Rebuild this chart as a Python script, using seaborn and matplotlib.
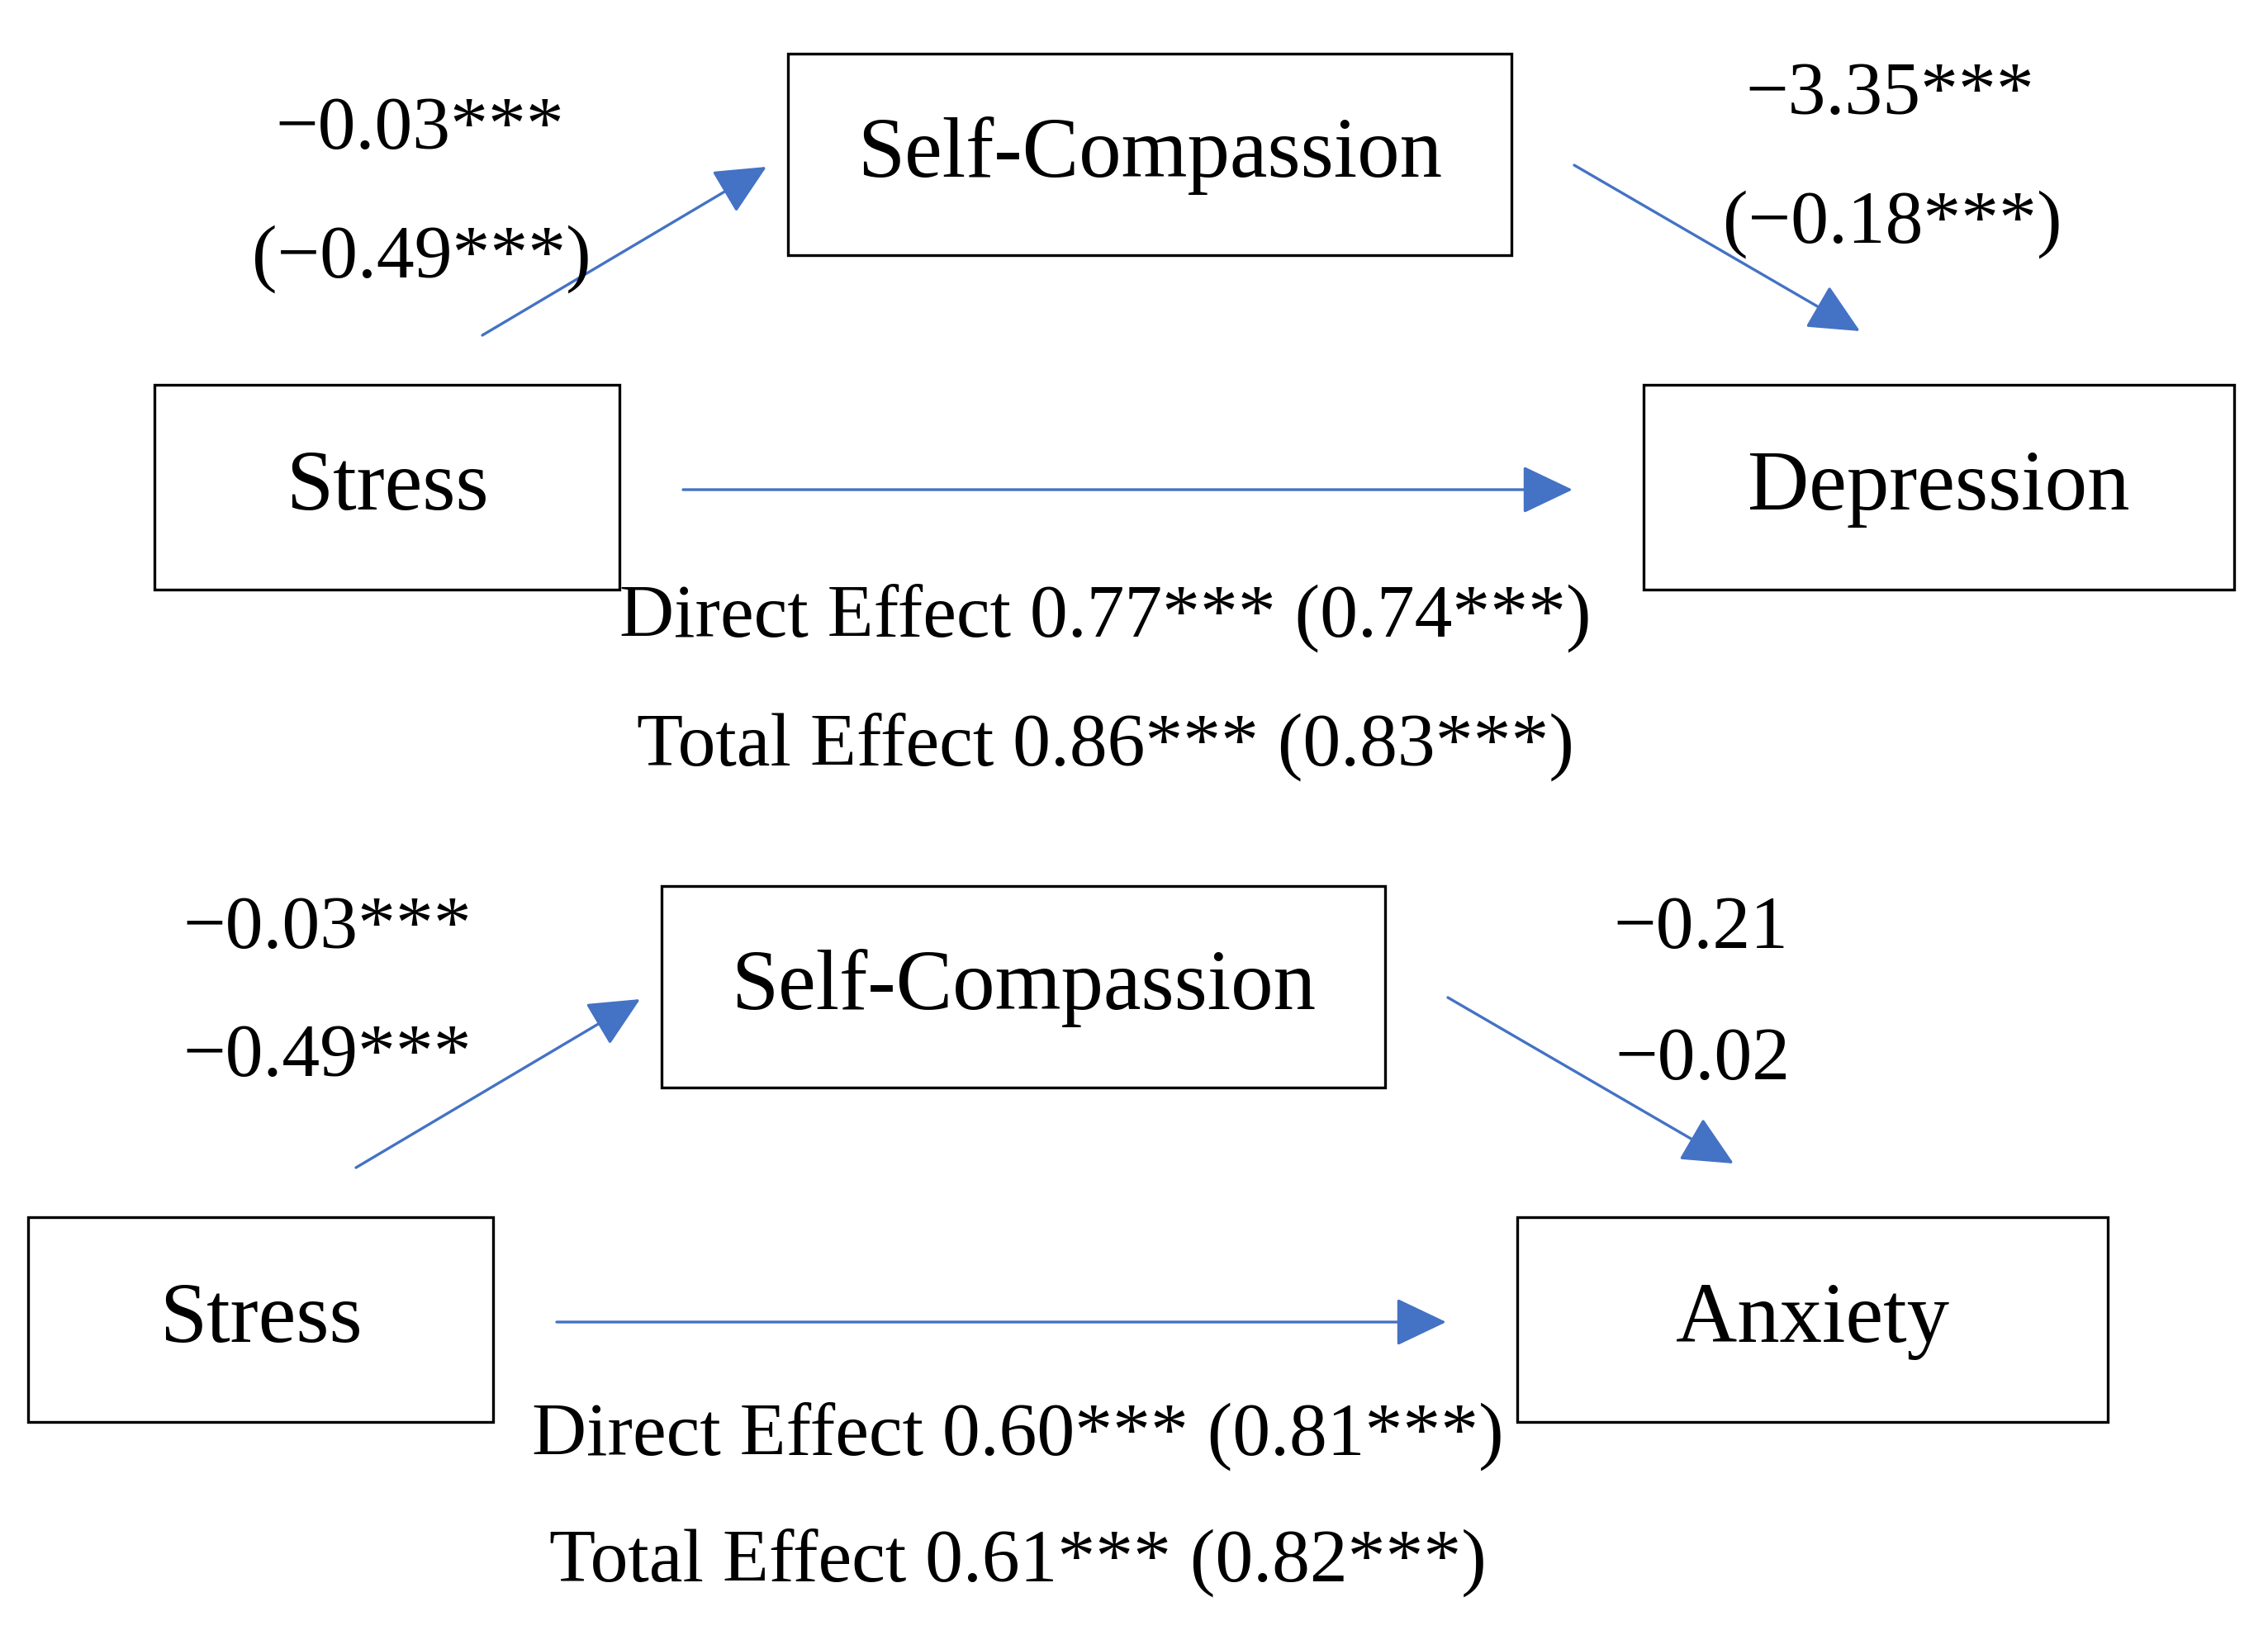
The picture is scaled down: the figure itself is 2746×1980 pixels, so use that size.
import matplotlib
matplotlib.use("Agg")
import matplotlib.pyplot as plt
from matplotlib.patches import Rectangle, FancyArrowPatch
import seaborn as sns

# ---- data ----
panels = ["Depression", "Anxiety"]
mediator = "Self-Compassion"
predictor = "Stress"
a_path = ["\u22120.03***", "\u22120.03***"]
a_path_std = ["(\u22120.49***)", "\u22120.49***"]
b_path = ["\u22123.35***", "\u22120.21"]
b_path_std = ["(\u22120.18***)", "\u22120.02"]
direct = ["Direct Effect 0.77*** (0.74***)", "Direct Effect 0.60*** (0.81***)"]
total = ["Total Effect 0.86*** (0.83***)", "Total Effect 0.61*** (0.82***)"]

# ---- layout (pixel coordinates) ----
W, H = 2746, 1980
offsets = [(0, 0), (-153, 1008)]
# text anchor positions per panel: (a, a_std, b, b_std, direct, total)
text_pos = [
    [(508, 158), (510, 314), (2288, 116), (2291, 272), (1338, 748), (1338, 904)],
    [(396, 1126), (396, 1281), (2059, 1126), (2061, 1285), (1232, 1739), (1232, 1892)],
]
BLUE = "#4472C4"

sns.set_theme(style="white")
plt.rcParams["font.family"] = ["Liberation Serif", "DejaVu Serif"]
plt.rcParams["text.color"] = "black"

fig = plt.figure(figsize=(W / 100, H / 100), dpi=100)
ax = fig.add_axes([0, 0, 1, 1])
ax.set_xlim(0, W)
ax.set_ylim(H, 0)
ax.axis("off")

FS = 74
FS_COEF = 66


def box(x0, y0, x1, y1, label):
    ax.add_patch(Rectangle((x0, y0), x1 - x0, y1 - y0, fill=False,
                           edgecolor="black", lw=2.4))
    ax.text((x0 + x1) / 2, (y0 + y1) / 2 + 2, label, ha="center",
            va="center", fontsize=FS, color="black")


def arrow(x0, y0, x1, y1):
    ax.add_patch(FancyArrowPatch((x0, y0), (x1, y1),
                                 arrowstyle="-|>,head_length=0.42,head_width=0.2",
                                 mutation_scale=92, color=BLUE, lw=2.4,
                                 shrinkA=0, shrinkB=0))


for i, outcome in enumerate(panels):
    dx, dy = offsets[i]
    box(187 + dx, 466 + dy, 750 + dx, 714 + dy, predictor)
    box(954 + dx, 65 + dy, 1830 + dx, 309 + dy, mediator)
    box(1990 + dx, 466 + dy, 2705 + dx, 714 + dy, outcome)

    arrow(584 + dx, 406 + dy, 928 + dx, 202 + dy)
    arrow(1906 + dx, 200 + dy, 2252 + dx, 401 + dy)
    arrow(827 + dx, 593 + dy, 1904 + dx, 593 + dy)

    labels = [a_path[i], a_path_std[i], b_path[i], b_path_std[i],
              direct[i], total[i]]
    for (tx, ty), lab in zip(text_pos[i], labels):
        ax.text(tx, ty, lab, ha="center", va="center", fontsize=FS_COEF,
                color="black")

fig.savefig("out.png", dpi=100, facecolor="white")
